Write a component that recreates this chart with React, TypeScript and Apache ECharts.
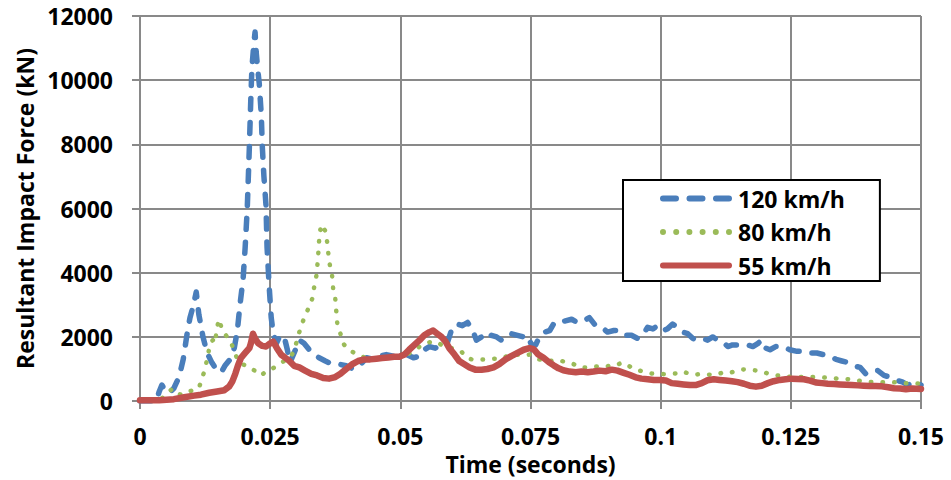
import React, { useEffect, useRef } from "react";
import * as echarts from "echarts";

// Time (s), resultant impact force (kN)
const series120: [number, number][] = [
  [0, 0], [0.0031, 0], [0.0037, 300], [0.0042, 500], [0.0048, 350], [0.0056, 250], [0.0065, 400],
  [0.0075, 750], [0.0083, 1300], [0.009, 2050], [0.0096, 2600], [0.0102, 2950], [0.0108, 3400],
  [0.0113, 2700], [0.0121, 2000], [0.0129, 1500], [0.0138, 1200], [0.0148, 950], [0.0156, 900],
  [0.0163, 1100], [0.0173, 1300], [0.0181, 1650], [0.0187, 2200], [0.0192, 3000], [0.0198, 3800],
  [0.0202, 4800], [0.0206, 6000], [0.021, 7900], [0.0213, 9500], [0.0215, 10400], [0.0219, 11200],
  [0.0221, 11500], [0.0223, 10900], [0.0227, 10200], [0.0229, 9900], [0.0233, 8900], [0.0235, 7900],
  [0.0238, 7000], [0.0242, 6100], [0.0244, 4800], [0.0248, 3600], [0.0252, 2600], [0.0256, 2100],
  [0.0262, 1800], [0.0269, 2050], [0.0277, 2000], [0.0283, 1600], [0.0288, 1200], [0.0296, 1500],
  [0.0306, 1900], [0.0315, 1800], [0.0325, 1600], [0.0335, 1450], [0.0344, 1350], [0.0356, 1250],
  [0.0369, 1150], [0.0383, 1150], [0.0396, 1100], [0.041, 1000], [0.0421, 1100], [0.0435, 1350],
  [0.0448, 1300], [0.046, 1400], [0.0473, 1450], [0.0487, 1400], [0.0498, 1450], [0.0512, 1450],
  [0.0525, 1350], [0.0537, 1400], [0.0546, 1600], [0.0556, 1700], [0.0567, 1650], [0.0579, 1750],
  [0.059, 1800], [0.06, 2300], [0.061, 2400], [0.0619, 2350], [0.0629, 2450], [0.0638, 2250],
  [0.0646, 1900], [0.0656, 2000], [0.0665, 1900], [0.0675, 2050], [0.0685, 2000], [0.0694, 1900],
  [0.0704, 2050], [0.0713, 2100], [0.0725, 2050], [0.0737, 2000], [0.0744, 2050], [0.0752, 1750],
  [0.076, 1750], [0.0767, 2000], [0.0777, 2150], [0.0787, 2200], [0.0796, 2450], [0.0806, 2450],
  [0.0817, 2500], [0.0829, 2550], [0.084, 2450], [0.0852, 2500], [0.0863, 2600], [0.0875, 2350],
  [0.0887, 2300], [0.0898, 2150], [0.091, 2200], [0.0921, 2200], [0.0933, 2050], [0.0944, 2050],
  [0.0956, 1950], [0.0965, 2050], [0.0975, 2300], [0.0985, 2250], [0.0994, 2350], [0.1004, 2200],
  [0.1013, 2250], [0.1023, 2400], [0.1033, 2300], [0.1042, 2150], [0.1052, 2100], [0.1062, 1950],
  [0.1071, 1900], [0.1081, 1950], [0.109, 1900], [0.11, 2000], [0.111, 1900], [0.1119, 1850],
  [0.1129, 1700], [0.1138, 1750], [0.1148, 1750], [0.1158, 1750], [0.1167, 1750], [0.1177, 1700],
  [0.1187, 1800], [0.1194, 1900], [0.1202, 1650], [0.121, 1600], [0.1221, 1700], [0.1235, 1700],
  [0.1248, 1600], [0.1262, 1550], [0.1273, 1550], [0.1287, 1500], [0.13, 1500], [0.1312, 1450],
  [0.1325, 1400], [0.1337, 1300], [0.1348, 1250], [0.136, 1200], [0.1371, 1100], [0.1383, 1050],
  [0.1394, 850], [0.1406, 950], [0.1417, 950], [0.1429, 800], [0.144, 750], [0.1452, 650],
  [0.1464, 600], [0.1475, 500], [0.1485, 600], [0.15, 500],
];

const series80: [number, number][] = [
  [0, 0], [0.0037, 0], [0.0046, 150], [0.0056, 300], [0.0062, 380], [0.0069, 250], [0.0079, 200],
  [0.0087, 230], [0.0094, 300], [0.0104, 350], [0.0113, 400], [0.0123, 900], [0.0129, 1300],
  [0.0133, 1650], [0.0137, 1850], [0.014, 1900], [0.0144, 1800], [0.0148, 2300], [0.0152, 2550],
  [0.0158, 2200], [0.0165, 2050], [0.0173, 1900], [0.0179, 1650], [0.0187, 1300], [0.0196, 1150],
  [0.0206, 1100], [0.0215, 1000], [0.0225, 900], [0.0233, 800], [0.024, 900], [0.0248, 950],
  [0.0258, 1050], [0.0267, 1150], [0.0277, 1250], [0.0287, 1350], [0.0294, 1500], [0.03, 1800],
  [0.0306, 2150], [0.0312, 2450], [0.0317, 2650], [0.0325, 2950], [0.0331, 3200], [0.0335, 3600],
  [0.0338, 3800], [0.034, 4100], [0.0342, 4500], [0.0344, 5000], [0.0346, 5300], [0.0348, 5500],
  [0.0352, 5400], [0.0356, 5300], [0.036, 4900], [0.0362, 4550], [0.0365, 4200], [0.0369, 3900],
  [0.0371, 3500], [0.0375, 3200], [0.0377, 2800], [0.0379, 2400], [0.0385, 2100], [0.039, 1800],
  [0.04, 1600], [0.0412, 1500], [0.0423, 1400], [0.0435, 1350], [0.0448, 1350], [0.046, 1300],
  [0.0473, 1350], [0.0487, 1400], [0.0498, 1400], [0.0512, 1450], [0.0525, 1550], [0.0537, 1700],
  [0.0548, 1800], [0.056, 1850], [0.0569, 1850], [0.0579, 1750], [0.0588, 1700], [0.0598, 1650],
  [0.0608, 1600], [0.0617, 1550], [0.0627, 1350], [0.0637, 1300], [0.0648, 1300], [0.066, 1300],
  [0.0671, 1320], [0.0683, 1320], [0.0694, 1350], [0.0706, 1400], [0.0717, 1430], [0.0729, 1450],
  [0.074, 1430], [0.0748, 1450], [0.0758, 1350], [0.0767, 1300], [0.0777, 1270], [0.0787, 1250],
  [0.0798, 1280], [0.081, 1250], [0.0821, 1200], [0.0833, 1150], [0.0844, 1050], [0.0856, 1050],
  [0.0867, 1070], [0.0879, 1080], [0.089, 1060], [0.0902, 1100], [0.0913, 1100], [0.0925, 1200],
  [0.0937, 1120], [0.0948, 1000], [0.096, 950], [0.0971, 900], [0.0983, 860], [0.0994, 850],
  [0.1006, 840], [0.1017, 850], [0.1029, 860], [0.104, 930], [0.1052, 870], [0.1063, 820],
  [0.1075, 840], [0.1087, 830], [0.1098, 820], [0.111, 840], [0.1121, 900], [0.1133, 880],
  [0.1144, 940], [0.1156, 990], [0.1167, 980], [0.1179, 960], [0.119, 950], [0.1202, 880],
  [0.1213, 820], [0.1225, 800], [0.1237, 780], [0.1248, 760], [0.126, 760], [0.1271, 750],
  [0.1283, 740], [0.1294, 750], [0.1306, 740], [0.1317, 730], [0.1329, 720], [0.134, 700],
  [0.1352, 690], [0.1363, 680], [0.1375, 650], [0.1387, 620], [0.1398, 600], [0.141, 590],
  [0.1421, 590], [0.1433, 580], [0.1444, 590], [0.1456, 580], [0.1467, 560], [0.1479, 560],
  [0.149, 550], [0.15, 540],
];

const series55: [number, number][] = [
  [0, 30], [0.0037, 30], [0.0065, 60], [0.0085, 120], [0.0104, 170], [0.0117, 200], [0.0133, 260],
  [0.0148, 300], [0.0162, 340], [0.0171, 450], [0.0177, 600], [0.0183, 850], [0.0188, 1100],
  [0.0194, 1350], [0.0202, 1500], [0.021, 1650], [0.0213, 1800], [0.0217, 2100], [0.0221, 1950],
  [0.0227, 1800], [0.0235, 1720], [0.0242, 1700], [0.025, 1800], [0.0256, 1850], [0.0263, 1650],
  [0.0271, 1450], [0.0279, 1350], [0.0287, 1250], [0.0296, 1100], [0.0306, 1050], [0.0317, 950],
  [0.0329, 850], [0.034, 800], [0.0352, 720], [0.0363, 700], [0.0375, 750], [0.0385, 850],
  [0.0396, 1000], [0.0408, 1150], [0.0419, 1250], [0.0431, 1300], [0.0442, 1300], [0.0454, 1320],
  [0.0465, 1340], [0.0477, 1360], [0.0488, 1380], [0.0498, 1380], [0.0508, 1450], [0.0517, 1600],
  [0.0527, 1750], [0.0537, 1900], [0.0546, 2050], [0.0556, 2150], [0.0563, 2200], [0.0571, 2100],
  [0.0579, 2000], [0.0587, 1850], [0.0594, 1650], [0.0604, 1450], [0.0613, 1250], [0.0623, 1150],
  [0.0633, 1050], [0.0644, 980], [0.0656, 980], [0.0667, 1000], [0.0679, 1050], [0.069, 1150],
  [0.0702, 1300], [0.0713, 1400], [0.0725, 1500], [0.0737, 1600], [0.0748, 1650], [0.0756, 1620],
  [0.0765, 1450], [0.0775, 1350], [0.0785, 1220], [0.0794, 1120], [0.0804, 1020], [0.0813, 960],
  [0.0825, 920], [0.0837, 900], [0.0848, 920], [0.086, 900], [0.0871, 920], [0.0883, 950],
  [0.0894, 930], [0.0906, 980], [0.0917, 950], [0.0929, 880], [0.094, 820], [0.0952, 740],
  [0.0963, 700], [0.0975, 680], [0.0987, 660], [0.0998, 660], [0.101, 640], [0.1021, 560],
  [0.1033, 540], [0.1044, 520], [0.1056, 500], [0.1067, 500], [0.1079, 560], [0.109, 650],
  [0.1102, 680], [0.1113, 660], [0.1125, 640], [0.1137, 620], [0.1148, 590], [0.116, 540],
  [0.1171, 480], [0.1183, 450], [0.1194, 480], [0.1206, 560], [0.1217, 620], [0.1229, 660],
  [0.124, 680], [0.1252, 700], [0.1263, 690], [0.1275, 680], [0.1287, 640], [0.1298, 580],
  [0.131, 560], [0.1321, 540], [0.1333, 530], [0.1344, 520], [0.1356, 510], [0.1367, 500],
  [0.1379, 490], [0.139, 480], [0.1402, 470], [0.1413, 470], [0.1425, 460], [0.1437, 430],
  [0.1448, 400], [0.146, 390], [0.1471, 370], [0.1483, 390], [0.15, 380],
];

const seriesNames = ["120 km/h", "80 km/h", "55 km/h"];
const xTicks = { min: 0, max: 0.15, interval: 0.025 };
const yTicks = { min: 0, max: 12000, interval: 2000 };

const FONT = "'Open Sans', 'Noto Sans', sans-serif";
const GRID = "#898989";
const COLORS = ["#4A7EBB", "#9BBB59", "#C0504D"];

// legend sample icons (72 x 6 box)
const dashIcon =
  "path://M3 0 h13 a3 3 0 0 1 0 6 h-13 a3 3 0 0 1 0 -6 Z" +
  " M29.5 0 h13 a3 3 0 0 1 0 6 h-13 a3 3 0 0 1 0 -6 Z" +
  " M56 0 h13 a3 3 0 0 1 0 6 h-13 a3 3 0 0 1 0 -6 Z";
const dotIcon = "path://" + [3, 16.2, 29.4, 42.6, 55.8, 69]
  .map((c) => `M${c - 3} 3 a3 3 0 1 0 6 0 a3 3 0 1 0 -6 0 Z`)
  .join(" ");
const solidIcon = "path://M3 0 h66 a3 3 0 0 1 0 6 h-66 a3 3 0 0 1 0 -6 Z";

export default function App() {
  const ref = useRef<HTMLDivElement>(null);

  useEffect(() => {
    if (!ref.current) return;
    const chart = echarts.init(ref.current, undefined, { renderer: "svg" });
    const labelStyle = {
      fontFamily: FONT,
      fontWeight: "bold" as const,
      fontSize: 23,
      lineHeight: 23,
      color: "#000",
    };
    chart.setOption({
      animation: false,
      backgroundColor: "#fff",
      grid: { left: 140, right: 30, top: 16, bottom: 76, containLabel: false },
      xAxis: {
        type: "value",
        ...xTicks,
        name: "Time (seconds)",
        nameLocation: "middle",
        nameGap: 48,
        nameTextStyle: { ...labelStyle },
        axisLine: { show: true, lineStyle: { color: GRID, width: 2 } },
        axisTick: { show: true, length: 8, lineStyle: { color: GRID, width: 2 } },
        splitLine: { show: true, lineStyle: { color: GRID, width: 2 } },
        axisLabel: {
          ...labelStyle,
          margin: 23,
          formatter: (v: number) => String(parseFloat(v.toFixed(3))),
        },
      },
      yAxis: {
        type: "value",
        ...yTicks,
        name: "Resultant Impact Force (kN)",
        nameLocation: "middle",
        nameGap: 102,
        nameTextStyle: { ...labelStyle },
        axisLine: { show: true, lineStyle: { color: GRID, width: 2 } },
        axisTick: { show: true, length: 8, lineStyle: { color: GRID, width: 2 } },
        splitLine: { show: true, lineStyle: { color: GRID, width: 2 } },
        axisLabel: { ...labelStyle, margin: 27, formatter: (v: number) => String(v) },
      },
      legend: {
        show: true,
        selectedMode: false,
        orient: "vertical",
        left: 623,
        top: 180,
        padding: [7, 35, 4, 37],
        itemGap: 10.5,
        itemWidth: 72,
        itemHeight: 6,
        borderColor: "#000",
        borderWidth: 2,
        backgroundColor: "#fff",
        itemStyle: { borderWidth: 0 },
        textStyle: { ...labelStyle, padding: [0, 0, 0, 1] },
        data: [
          { name: seriesNames[0], icon: dashIcon, itemStyle: { color: COLORS[0], borderWidth: 0 } },
          { name: seriesNames[1], icon: dotIcon, itemStyle: { color: COLORS[1], borderWidth: 0 } },
          { name: seriesNames[2], icon: solidIcon, itemStyle: { color: COLORS[2], borderWidth: 0 } },
        ],
      },
      series: [
        {
          name: seriesNames[0],
          type: "line",
          data: series120,
          symbol: "none",
          z: 2,
          lineStyle: { color: COLORS[0], width: 5.5, type: [11, 13], cap: "round", join: "round" },
          itemStyle: { color: COLORS[0] },
        },
        {
          name: seriesNames[1],
          type: "line",
          data: series80,
          symbol: "none",
          z: 3,
          lineStyle: { color: COLORS[1], width: 4.5, type: [0.5, 11.2], cap: "round", join: "round" },
          itemStyle: { color: COLORS[1] },
        },
        {
          name: seriesNames[2],
          type: "line",
          data: series55,
          symbol: "none",
          z: 4,
          lineStyle: { color: COLORS[2], width: 6.5, type: "solid", cap: "round", join: "round" },
          itemStyle: { color: COLORS[2] },
        },
      ],
    });
    return () => chart.dispose();
  }, []);

  return (
    <div
      ref={ref}
      style={{ position: "absolute", left: 0, top: 0, width: 951, height: 480, background: "#fff" }}
    />
  );
}
